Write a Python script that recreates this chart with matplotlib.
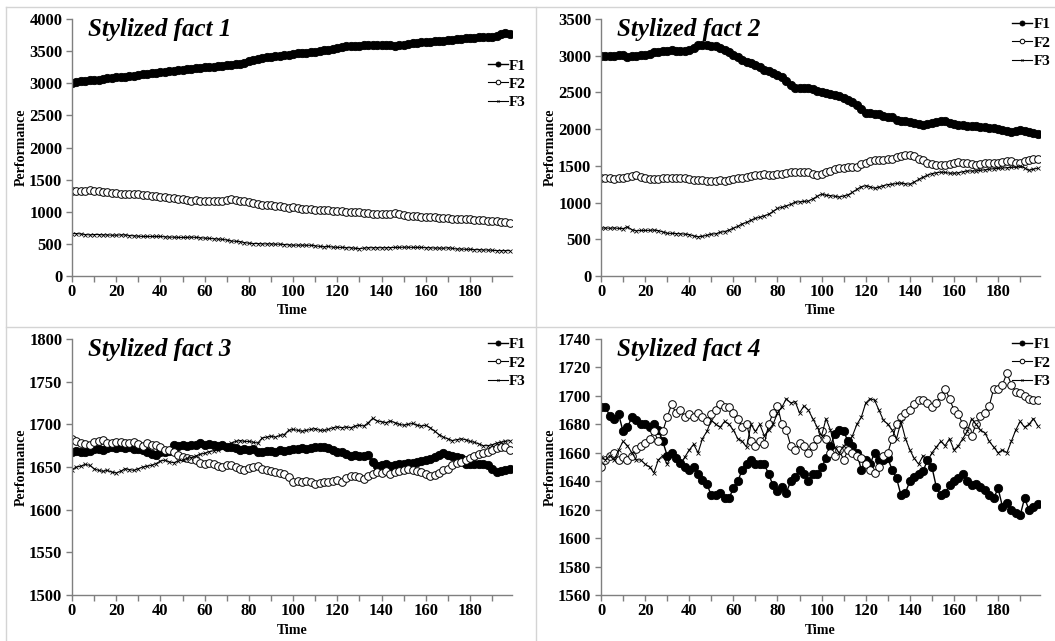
import numpy as np
import matplotlib
matplotlib.use("Agg")
import matplotlib.pyplot as plt
from matplotlib.lines import Line2D

# time axis: every second step of the 200-step run
time = np.arange(0, 200, 2)

# Stylized fact 1
sf1_f1 = [3010, 3020, 3030, 3040, 3050, 3045, 3050, 3070, 3075, 3080,
          3095, 3100, 3105, 3110, 3120, 3130, 3140, 3150, 3160, 3165,
          3175, 3180, 3190, 3195, 3205, 3210, 3220, 3225, 3230, 3240,
          3250, 3255, 3260, 3270, 3275, 3280, 3290, 3295, 3300, 3320,
          3345, 3360, 3380, 3400, 3410, 3410, 3420, 3430, 3440, 3445,
          3455, 3465, 3470, 3475, 3480, 3490, 3500, 3510, 3520, 3535,
          3545, 3560, 3575, 3580, 3575, 3585, 3590, 3590, 3595, 3600,
          3600, 3600, 3590, 3580, 3590, 3600, 3610, 3620, 3625, 3635,
          3640, 3645, 3650, 3655, 3660, 3670, 3680, 3690, 3695, 3700,
          3705, 3710, 3715, 3720, 3715, 3720, 3740, 3760, 3775, 3770]
sf1_f2 = [1320, 1320, 1325, 1330, 1335, 1330, 1320, 1300, 1305, 1295,
          1285, 1280, 1275, 1280, 1275, 1270, 1260, 1255, 1250, 1240,
          1230, 1225, 1220, 1215, 1205, 1200, 1190, 1175, 1180, 1175,
          1170, 1165, 1170, 1165, 1170, 1180, 1195, 1185, 1170, 1160,
          1150, 1140, 1125, 1110, 1105, 1100, 1095, 1085, 1075, 1065,
          1075, 1065, 1050, 1045, 1040, 1035, 1030, 1025, 1020, 1015,
          1010, 1005, 1000, 995, 995, 990, 985, 975, 970, 965,
          960, 965, 970, 975, 960, 945, 940, 935, 930, 925,
          920, 918, 915, 910, 905, 900, 890, 885, 880, 885,
          880, 875, 870, 865, 860, 860, 855, 845, 835, 830]
sf1_f3 = [660, 660, 655, 645, 640, 645, 645, 640, 640, 635,
          635, 640, 640, 630, 625, 620, 615, 615, 615, 615,
          615, 610, 605, 605, 600, 600, 600, 605, 600, 595,
          590, 585, 580, 575, 570, 560, 545, 540, 535, 520,
          510, 505, 505, 500, 500, 500, 495, 495, 490, 485,
          480, 480, 480, 478, 478, 470, 460, 455, 460, 450,
          445, 445, 440, 440, 430, 425, 435, 440, 440, 440,
          440, 440, 442, 445, 445, 448, 448, 445, 445, 445,
          440, 440, 435, 435, 432, 440, 430, 420, 420, 415,
          415, 410, 410, 405, 405, 400, 395, 395, 395, 395]

# Stylized fact 2
sf2_f1 = [2990, 2995, 3000, 2995, 3005, 3010, 2985, 2995, 3000, 3005,
          3010, 3030, 3045, 3055, 3060, 3070, 3075, 3070, 3065, 3065,
          3080, 3110, 3150, 3145, 3140, 3135, 3130, 3100, 3075, 3050,
          3015, 2980, 2940, 2915, 2900, 2875, 2840, 2805, 2795, 2770,
          2740, 2710, 2660, 2600, 2565, 2560, 2560, 2555, 2540, 2520,
          2510, 2495, 2475, 2460, 2445, 2430, 2400, 2370, 2330, 2270,
          2215, 2220, 2210, 2200, 2185, 2170, 2160, 2130, 2115, 2110,
          2100, 2090, 2065, 2055, 2075, 2090, 2100, 2110, 2110, 2085,
          2070, 2060, 2055, 2045, 2040, 2040, 2030, 2030, 2020, 2010,
          2005, 1995, 1975, 1965, 1980, 1985, 1970, 1955, 1950, 1935]
sf2_f2 = [1330, 1335, 1330, 1325, 1330, 1330, 1345, 1365, 1370, 1355,
          1340, 1320, 1315, 1320, 1330, 1335, 1335, 1340, 1335, 1330,
          1320, 1310, 1305, 1310, 1300, 1290, 1300, 1305, 1300, 1310,
          1320, 1335, 1340, 1345, 1360, 1375, 1380, 1385, 1375, 1380,
          1385, 1395, 1400, 1410, 1415, 1420, 1415, 1410, 1395, 1370,
          1395, 1410, 1430, 1455, 1470, 1475, 1480, 1480, 1490, 1520,
          1545, 1565, 1575, 1580, 1585, 1590, 1600, 1615, 1630, 1645,
          1650, 1640, 1600, 1575, 1545, 1520, 1510, 1505, 1510, 1530,
          1545, 1550, 1540, 1535, 1525, 1515, 1525, 1535, 1540, 1535,
          1535, 1550, 1570, 1560, 1545, 1540, 1560, 1585, 1595, 1590]
sf2_f3 = [650, 655, 650, 655, 648, 645, 670, 630, 615, 620,
          620, 622, 625, 618, 600, 582, 580, 578, 575, 570,
          565, 545, 535, 540, 555, 570, 575, 595, 605, 625,
          650, 675, 710, 730, 760, 785, 800, 820, 840, 880,
          920, 935, 955, 975, 1005, 1010, 1015, 1020, 1050, 1085,
          1115, 1100, 1095, 1085, 1075, 1090, 1105, 1140, 1180, 1215,
          1230, 1215, 1195, 1210, 1230, 1245, 1250, 1260, 1265, 1255,
          1250, 1280, 1315, 1345, 1370, 1395, 1405, 1415, 1410, 1400,
          1400, 1405, 1420, 1430, 1430, 1430, 1440, 1445, 1455, 1460,
          1465, 1470, 1475, 1480, 1480, 1500, 1470, 1440, 1455, 1468]

# Stylized fact 3
sf3_f1 = [1668, 1669, 1668, 1668, 1669, 1671, 1671, 1670, 1672, 1673,
          1672, 1673, 1672, 1673, 1671, 1671, 1670, 1668, 1665, 1664,
          1667, 1668, 1669, 1676, 1675, 1676, 1675, 1676, 1676, 1678,
          1676, 1677, 1676, 1675, 1676, 1674, 1674, 1672, 1670, 1671,
          1670, 1671, 1668, 1668, 1669, 1669, 1668, 1670, 1669, 1670,
          1671, 1671, 1672, 1671, 1672, 1673, 1673, 1674, 1672, 1670,
          1668, 1668, 1665, 1663, 1664, 1663, 1663, 1664, 1656, 1651,
          1652, 1653, 1651, 1652, 1654, 1653, 1655, 1655, 1656, 1657,
          1658, 1659, 1662, 1664, 1666, 1664, 1663, 1662, 1660, 1653,
          1653, 1653, 1654, 1654, 1652, 1648, 1644, 1645, 1647, 1648]
sf3_f2 = [1683, 1680, 1678, 1677, 1676, 1679, 1681, 1682, 1678, 1678,
          1679, 1679, 1678, 1678, 1679, 1677, 1675, 1678, 1676, 1676,
          1673, 1670, 1670, 1667, 1664, 1662, 1660, 1659, 1658, 1655,
          1654, 1655, 1653, 1651, 1650, 1652, 1652, 1650, 1648, 1646,
          1649, 1650, 1651, 1648, 1647, 1645, 1644, 1643, 1642, 1638,
          1633, 1634, 1633, 1634, 1632, 1630, 1631, 1632, 1632, 1634,
          1635, 1633, 1637, 1640, 1639, 1638, 1636, 1640, 1642, 1644,
          1643, 1645, 1642, 1644, 1645, 1647, 1648, 1646, 1645, 1644,
          1642, 1640, 1641, 1643, 1646, 1648, 1652, 1655, 1656, 1658,
          1660, 1663, 1665, 1666, 1668, 1670, 1672, 1673, 1673, 1670]
sf3_f3 = [1647, 1650, 1651, 1653, 1652, 1648, 1646, 1645, 1646, 1644,
          1643, 1645, 1648, 1647, 1646, 1648, 1650, 1651, 1652, 1654,
          1657, 1658, 1656, 1655, 1657, 1658, 1660, 1661, 1663, 1665,
          1666, 1668, 1669, 1670, 1672, 1675, 1678, 1680, 1681, 1680,
          1680, 1679, 1678, 1684, 1685, 1686, 1685, 1687, 1688, 1693,
          1694, 1693, 1692, 1693, 1694, 1695, 1693, 1693, 1694, 1696,
          1697, 1696, 1697, 1696, 1698, 1699, 1698, 1702, 1707, 1704,
          1703, 1702, 1704, 1702, 1700, 1699, 1700, 1701, 1699, 1698,
          1699, 1696, 1692, 1688, 1685, 1683, 1681, 1682, 1683, 1682,
          1680, 1679, 1677, 1675, 1675, 1676, 1678, 1679, 1680, 1681]

# Stylized fact 4
sf4_f1 = [1692, 1692, 1686, 1684, 1687, 1675, 1678, 1685, 1683, 1680,
          1680, 1678, 1680, 1676, 1668, 1658, 1660, 1656, 1653, 1650,
          1648, 1650, 1645, 1641, 1638, 1630, 1630, 1632, 1628, 1628,
          1635, 1640, 1648, 1652, 1655, 1652, 1652, 1652, 1645, 1637,
          1633, 1636, 1632, 1640, 1643, 1648, 1645, 1640, 1645, 1645,
          1650, 1656, 1665, 1673, 1676, 1675, 1668, 1665, 1660, 1648,
          1655, 1652, 1660, 1655, 1655, 1656, 1648, 1642, 1630, 1632,
          1640, 1643, 1645, 1647, 1655, 1650, 1636, 1630, 1632, 1637,
          1640, 1642, 1645, 1640, 1637, 1638, 1636, 1634, 1630, 1628,
          1635, 1622, 1625, 1620, 1618, 1616, 1628, 1620, 1622, 1624]
sf4_f2 = [1650, 1655, 1658, 1660, 1655, 1657, 1655, 1658, 1663, 1665,
          1667, 1670, 1675, 1668, 1675, 1685, 1694, 1688, 1690, 1685,
          1687, 1685, 1688, 1685, 1682, 1687, 1690, 1694, 1692, 1692,
          1688, 1684, 1678, 1680, 1668, 1665, 1668, 1666, 1680, 1688,
          1693, 1680, 1676, 1665, 1662, 1667, 1665, 1660, 1665, 1670,
          1675, 1670, 1660, 1658, 1662, 1655, 1662, 1660, 1658, 1656,
          1652, 1648, 1646, 1650, 1658, 1660, 1670, 1680, 1685, 1688,
          1690, 1694, 1697, 1697, 1695, 1692, 1695, 1700, 1705, 1698,
          1690, 1687, 1680, 1675, 1672, 1680, 1686, 1688, 1693, 1705,
          1705, 1708, 1716, 1708, 1703, 1702, 1700, 1698, 1697, 1697]
sf4_f3 = [1657, 1655, 1658, 1655, 1662, 1668, 1665, 1660, 1655, 1655,
          1652, 1650, 1646, 1655, 1658, 1652, 1658, 1655, 1652, 1657,
          1662, 1666, 1660, 1670, 1675, 1683, 1680, 1678, 1682, 1680,
          1676, 1670, 1668, 1664, 1680, 1675, 1680, 1672, 1676, 1680,
          1688, 1692, 1698, 1695, 1696, 1688, 1693, 1690, 1684, 1678,
          1672, 1684, 1676, 1664, 1660, 1665, 1667, 1672, 1680, 1685,
          1695, 1698, 1697, 1690, 1683, 1680, 1676, 1670, 1682, 1670,
          1662, 1656, 1652, 1658, 1654, 1660, 1664, 1668, 1665, 1670,
          1662, 1665, 1670, 1675, 1684, 1680, 1676, 1674, 1668, 1664,
          1660, 1662, 1660, 1668, 1676, 1682, 1678, 1680, 1684, 1679]

titles = ["Stylized fact 1", "Stylized fact 2", "Stylized fact 3", "Stylized fact 4"]
series = [(sf1_f1, sf1_f2, sf1_f3), (sf2_f1, sf2_f2, sf2_f3),
          (sf3_f1, sf3_f2, sf3_f3), (sf4_f1, sf4_f2, sf4_f3)]
ylims = [(0, 4000), (0, 3500), (1500, 1800), (1560, 1740)]
ysteps = [500, 500, 50, 20]

SERIF = "Liberation Serif"
W, H = 1055, 641


def px_axes(fig, left, top, right, bottom):
    # axes placed by pixel edges
    return fig.add_axes([left / W, 1 - bottom / H, (right - left) / W, (bottom - top) / H])


def draw_panel(ax, title, data, ylim, ystep):
    f1, f2, f3 = data
    ax.plot(time, f1, color="black", lw=1.0, marker="o", ms=6,
            mfc="black", mec="black", mew=0.6, label="F1")
    ax.plot(time, f2, color="black", lw=0.8, marker="o", ms=5.5,
            mfc="white", mec="black", mew=0.7, label="F2")
    ax.plot(time, f3, color="black", lw=0.8, marker="x", ms=2.5,
            mew=0.6, label="F3")

    ax.set_xlim(0, 199)
    ax.set_ylim(*ylim)
    ax.set_yticks(np.arange(ylim[0], ylim[1] + 1, ystep))
    ax.set_xticks(np.arange(0, 200, 10))
    ax.set_xticklabels([str(v) if v % 20 == 0 else "" for v in range(0, 200, 10)])

    for s in ["top", "right"]:
        ax.spines[s].set_visible(False)
    for s in ["left", "bottom"]:
        ax.spines[s].set_color("#7f7f7f")
        ax.spines[s].set_linewidth(1.0)
    ax.tick_params(direction="out", length=4, width=1.0, color="#7f7f7f")
    ax.tick_params(axis="x", pad=2)
    ax.tick_params(axis="y", pad=3)
    for lab in ax.get_xticklabels() + ax.get_yticklabels():
        lab.set_fontfamily(SERIF)
        lab.set_fontweight("bold")
        lab.set_fontsize(12)

    ax.set_xlabel("Time", family=SERIF, weight="bold", fontsize=10, labelpad=3)
    ax.set_ylabel("Performance", family=SERIF, weight="bold", fontsize=10)
    ax.yaxis.set_label_coords(-0.10, 0.5)
    ax.text(0.036, 0.96, title, transform=ax.transAxes, family=SERIF,
            weight="bold", style="italic", fontsize=18, va="center", ha="left")


def main():
    fig = plt.figure(figsize=(W / 100, H / 100), dpi=100)
    fig.patch.set_facecolor("white")

    # light panel frames
    frame = "#d4d4d4"
    fig.add_artist(Line2D([6 / W, 1], [1 - 7 / H] * 2, color=frame, lw=1, transform=fig.transFigure))
    fig.add_artist(Line2D([6 / W, 1], [1 - 327 / H] * 2, color=frame, lw=1, transform=fig.transFigure))
    fig.add_artist(Line2D([6 / W] * 2, [0, 1 - 7 / H], color=frame, lw=1, transform=fig.transFigure))
    fig.add_artist(Line2D([536 / W] * 2, [0, 1 - 7 / H], color=frame, lw=1, transform=fig.transFigure))

    boxes = [(72, 19, 512, 276), (601, 19, 1040, 276),
             (72, 339, 512, 595), (601, 339, 1040, 595)]
    # right-hand legends pulled in a little so the labels stay inside the figure
    legend_anchor = [(0.945, 0.845), (0.936, 1.005), (0.945, 1.005), (0.936, 1.005)]

    for i in range(4):
        ax = px_axes(fig, *boxes[i])
        draw_panel(ax, titles[i], series[i], ylims[i], ysteps[i])
        ax.legend(loc="upper left", bbox_to_anchor=legend_anchor[i], frameon=False,
                  prop={"family": SERIF, "weight": "bold", "size": 11},
                  handlelength=1.3, handletextpad=0.1, labelspacing=0.3,
                  borderaxespad=0, borderpad=0, markerscale=0.6)

    fig.savefig("out.png", dpi=100, facecolor="white")
    plt.close(fig)


if __name__ == "__main__":
    main()
